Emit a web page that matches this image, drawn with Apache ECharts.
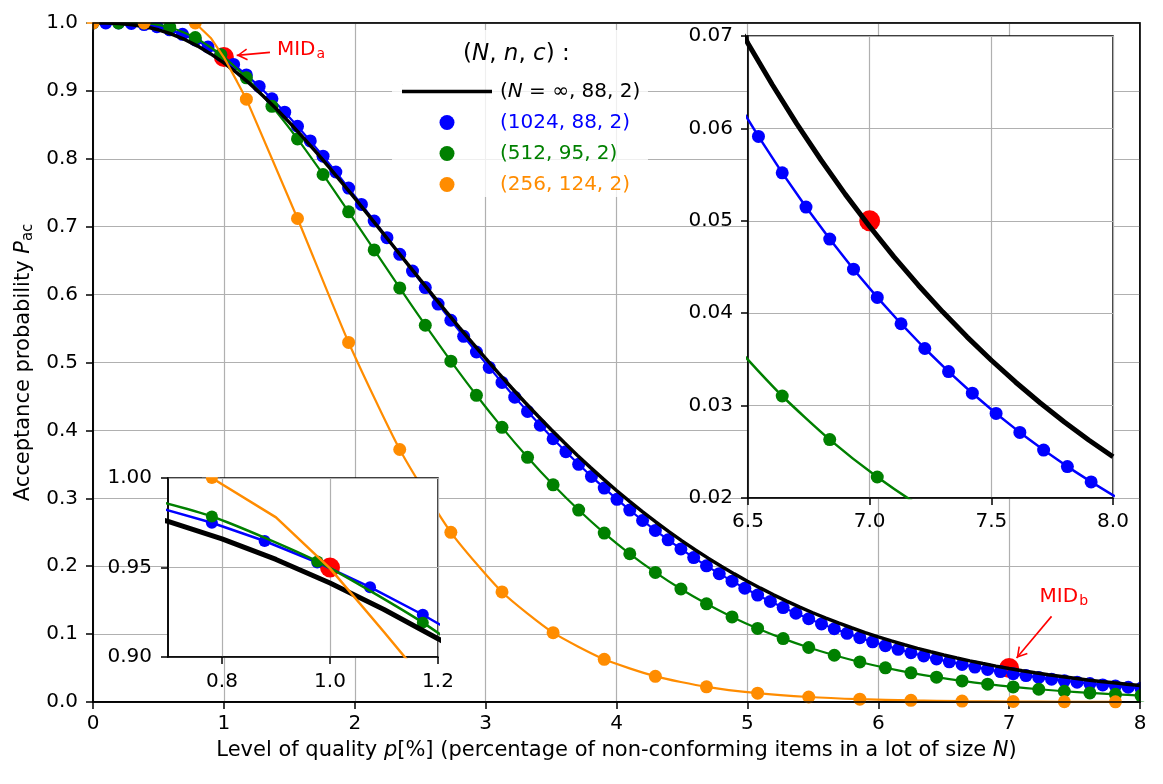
<!DOCTYPE html>
<html>
<head>
<meta charset="utf-8">
<title>OC curves</title>
<script src="https://cdn.jsdelivr.net/npm/echarts@6.0.0/dist/echarts.min.js"></script>
<style>
  html, body { margin: 0; padding: 0; background: #fff; }
  #chart { width: 1163px; height: 784px; }
</style>
</head>
<body>
<div id="chart"></div>
<script>
// ---- data -------------------------------------------------------------
// level of quality p [%] for the N = infinity curve
const pctBlack = [
  0, 0.1, 0.2, 0.3, 0.4, 0.5, 0.6, 0.7, 0.8, 0.9,
  1.0, 1.1, 1.2, 1.3, 1.4, 1.5, 1.6, 1.7, 1.8, 1.9,
  2.0, 2.1, 2.2, 2.3, 2.4, 2.5, 2.6, 2.7, 2.8, 2.9,
  3.0, 3.1, 3.2, 3.3, 3.4, 3.5, 3.6, 3.7, 3.8, 3.9,
  4.0, 4.1, 4.2, 4.3, 4.4, 4.5, 4.6, 4.7, 4.8, 4.9,
  5.0, 5.1, 5.2, 5.3, 5.4, 5.5, 5.6, 5.7, 5.8, 5.9,
  6.0, 6.1, 6.2, 6.3, 6.4, 6.5, 6.6, 6.7, 6.8, 6.9,
  7.0, 7.1, 7.2, 7.3, 7.4, 7.5, 7.6, 7.7, 7.8, 7.9, 8.0
];
const accBlack = [
  1, 0.9999, 0.99923, 0.99755, 0.99455, 0.99000, 0.98376, 0.97578, 0.96601, 0.95450,
  0.94130, 0.92651, 0.91023, 0.89257, 0.87368, 0.85369, 0.83273, 0.81095, 0.78847, 0.76544,
  0.74197, 0.71819, 0.69420, 0.67012, 0.64604, 0.62204, 0.59823, 0.57464, 0.55139, 0.52849,
  0.50601, 0.48400, 0.46250, 0.44153, 0.42113, 0.40132, 0.38210, 0.36350, 0.34553, 0.32818,
  0.31148, 0.29540, 0.27995, 0.26513, 0.25091, 0.23730, 0.22428, 0.21185, 0.19997, 0.18866,
  0.17788, 0.16763, 0.15787, 0.14860, 0.13979, 0.13144, 0.12354, 0.11608, 0.10896, 0.10225,
  0.09592, 0.08993, 0.08428, 0.07894, 0.07392, 0.06918, 0.06472, 0.06052, 0.05658, 0.05286,
  0.04938, 0.04610, 0.04303, 0.04015, 0.03744, 0.03491, 0.03253, 0.03031, 0.02823, 0.02628, 0.02446
];

// acceptance probability for D = 0, 1, 2, ... non-conforming items in the lot
const lotBlue = 1024;   // (1024, 88, 2)
const accBlue = [
  1, 1, 1, 0.9994, 0.9977, 0.9946, 0.9899, 0.9833, 0.9750, 0.9648,
  0.9528, 0.9390, 0.9236, 0.9066, 0.8883, 0.8687, 0.8479, 0.8263, 0.8038, 0.7806,
  0.7569, 0.7328, 0.7084, 0.6839, 0.6593, 0.6347, 0.6103, 0.5861, 0.5622, 0.5386,
  0.5155, 0.4928, 0.4706, 0.4489, 0.4280, 0.4076, 0.3877, 0.3686, 0.3501, 0.3322,
  0.3150, 0.2985, 0.2826, 0.2673, 0.2527, 0.2388, 0.2254, 0.2127, 0.2005, 0.1890,
  0.1780, 0.1675, 0.1575, 0.1481, 0.1391, 0.1307, 0.1226, 0.1150, 0.1079, 0.1011,
  0.0947, 0.0886, 0.0830, 0.0776, 0.07253, 0.06778, 0.06332, 0.05913, 0.05519, 0.05149,
  0.04802, 0.04476, 0.04171, 0.03886, 0.03618, 0.03368, 0.03134, 0.02915, 0.02710, 0.02519,
  0.02340, 0.02174, 0.02018
];
const lotGreen = 512;   // (512, 95, 2)
const accGreen = [
  1, 1, 1, 0.9938, 0.9785, 0.9534, 0.9192, 0.8773, 0.8293, 0.7769,
  0.7219, 0.6658, 0.6098, 0.5549, 0.5020, 0.4517, 0.4045, 0.3604, 0.3198, 0.2827,
  0.2488, 0.2183, 0.1909, 0.1664, 0.1446, 0.1253, 0.1083, 0.09336, 0.08028, 0.06888,
  0.05898, 0.05039, 0.04296, 0.03655, 0.03104, 0.02632, 0.02227, 0.01881, 0.01587, 0.01336,
  0.01123, 0.00943
];
const lotOrange = 256;  // (256, 124, 2)
const accOrange = [
  1, 1, 1, 0.8878, 0.7121, 0.5295, 0.3719, 0.2499, 0.1621, 0.1021,
  0.0628, 0.0378, 0.0223, 0.0130, 0.0074, 0.0042, 0.0024, 0.0013, 0.0007, 0.0004, 0.0002
];
// orange connecting line between the dots at 0.78 % and 1.17 %
const orangeCurvePct = [0.9, 1.0, 1.1];
const orangeCurveAcc = [0.978, 0.9495, 0.914];

// MID points
const midPct = [1.0, 7.0];
const midAcc = [0.95, 0.05];

const seriesNames = ['(N = ∞, 88, 2)', '(1024, 88, 2)', '(512, 95, 2)', '(256, 124, 2)'];

// ---- build ------------------------------------------------------------
const FONT = 'DejaVu Sans';
const BLUE = '#0000ff', GREEN = '#008000', ORANGE = '#ff8c00', RED = '#ff0000';
const GRIDC = '#b0b0b0';
// open arrow head, tip at the symbol centre
const ARROW = 'path://M0,-10.8L0.01,-10.8L0,-10.79Z M0,0L6,10L4.6,10.8L0,3L-4.6,10.8L-6,10Z';
const LINE_ICON = 'path://M0,0L0.3,0L0,0.3Z M0,5.7L90,5.7L90,9.3L0,9.3Z M90,15L89.7,15L90,14.7Z';

function dots(acc, lot) {
  return acc.map((v, d) => [100 * d / lot, v]);
}
const blackPts = pctBlack.map((p, i) => [p, accBlack[i]]);
const bluePts = dots(accBlue, lotBlue);
const greenPts = dots(accGreen, lotGreen);
const orangePts = dots(accOrange, lotOrange);
// first part of the orange line (D = 2 .. 3) is drawn straight, the rest smoothed
const orangeHead = [orangePts[2]]
  .concat(orangeCurvePct.map((p, i) => [p, orangeCurveAcc[i]]), [orangePts[3]]);
const orangeTail = orangePts.slice(3);
const midPts = midPct.map((p, i) => [p, midAcc[i]]);

function curves(g, st) {
  const z = st.z;
  const clip = g !== 0;
  const s = (o) => Object.assign({ xAxisIndex: g, yAxisIndex: g, silent: true, animation: false }, o);
  return [
    s({ type: 'scatter', name: 'MID', data: midPts, symbolSize: st.red,
        itemStyle: { color: RED, opacity: 1 }, z: z }),
    s({ type: 'line', name: 'blue-line', data: bluePts, showSymbol: false,
        lineStyle: { color: BLUE, width: st.thin }, itemStyle: { color: BLUE }, z: z + 1 }),
    s({ type: 'scatter', name: seriesNames[1], data: bluePts, symbolSize: st.dot, clip: clip,
        itemStyle: { color: BLUE, opacity: 1 }, z: z + 2 }),
    s({ type: 'line', name: 'green-line', data: greenPts, showSymbol: false, smooth: 0.2,
        lineStyle: { color: GREEN, width: st.thin }, itemStyle: { color: GREEN }, z: z + 3 }),
    s({ type: 'scatter', name: seriesNames[2], data: greenPts, symbolSize: st.dot, clip: clip,
        itemStyle: { color: GREEN, opacity: 1 }, z: z + 4 }),
    s({ type: 'line', name: seriesNames[0], data: blackPts, showSymbol: false,
        lineStyle: { color: '#000', width: st.black }, itemStyle: { color: '#000' }, z: z + 5 }),
    s({ type: 'line', name: 'orange-head', data: orangeHead, showSymbol: false,
        lineStyle: { color: ORANGE, width: st.thin }, itemStyle: { color: ORANGE }, z: z + 6 }),
    s({ type: 'line', name: 'orange-tail', data: orangeTail, showSymbol: false, smooth: 0.2,
        lineStyle: { color: ORANGE, width: st.thin }, itemStyle: { color: ORANGE }, z: z + 6 }),
    s({ type: 'scatter', name: seriesNames[3], data: orangePts, symbolSize: st.dot, clip: clip,
        itemStyle: { color: ORANGE, opacity: 1 }, z: z + 7 })
  ];
}

function notes(g, z, items) {
  return {
    type: 'scatter', xAxisIndex: g, yAxisIndex: g, data: [], silent: true, z: z, animation: false,
    markLine: {
      silent: true, animation: false, symbol: ['none', ARROW], symbolSize: [12, 21.6],
      lineStyle: { color: RED, width: 1.6, type: 'solid' },
      label: { show: false },
      data: items.map(it => [{ coord: it.from }, { coord: it.to }])
    },
    markPoint: {
      silent: true, animation: false, symbol: 'circle', symbolSize: 0,
      label: {
        show: true, position: 'inside', color: RED, fontFamily: FONT,
        rich: {
          m: { fontSize: 20, color: RED, fontFamily: FONT },
          s: { fontSize: 14, color: RED, fontFamily: FONT, padding: [9, 0, 0, 1] }
        }
      },
      itemStyle: { color: 'transparent' },
      data: items.map(it => ({ coord: it.at, label: { formatter: '{m|MID}{s|' + it.sub + '}' } }))
    }
  };
}

function axis(g, o) {
  return Object.assign({
    type: 'value', gridIndex: g,
    axisLine: { show: true, onZero: false, lineStyle: { color: '#000', width: 1.5 } },
    axisTick: { show: true, length: 7, lineStyle: { color: '#000', width: 1.5 } },
    splitLine: { show: true, lineStyle: { color: GRIDC, width: 1.2 } }
  }, o);
}
function label(fmt, margin, extra) {
  return Object.assign({ color: '#000', fontFamily: FONT, fontSize: 20, margin: margin, formatter: fmt }, extra || {});
}
function cover(x, y, w, h) {
  return { type: 'rect', shape: { x: x, y: y, width: w, height: h }, style: { fill: '#fff' }, z: 30, silent: true };
}

const insetTicks = [0.8, 1.0, 1.2];

const option = {
  animation: false,
  backgroundColor: '#fff',
  textStyle: { fontFamily: FONT },
  grid: [
    { left: 93, top: 23, width: 1047, height: 679, show: true, borderColor: '#000', borderWidth: 1.5,
      backgroundColor: 'transparent' },
    { left: 168, top: 478, width: 270, height: 179, show: true, borderColor: '#000', borderWidth: 1.5,
      backgroundColor: '#fff', z: 10 },
    { left: 748, top: 36, width: 365, height: 462, show: true, borderColor: '#000', borderWidth: 1.5,
      backgroundColor: '#fff', z: 10 }
  ],
  xAxis: [
    axis(0, {
      min: 0, max: 8, interval: 1,
      axisLabel: label(v => String(v), 12),
      name: '{t|Level of quality }{i|p}{t|[%] (percentage of non-conforming items in a lot of size }{i|N}{t|)}',
      nameLocation: 'middle', nameGap: 38,
      nameTextStyle: {
        color: '#000', fontFamily: FONT, fontSize: 21,
        rich: {
          t: { fontSize: 21, fontFamily: FONT, color: '#000' },
          i: { fontSize: 21, fontFamily: FONT, fontStyle: 'italic', color: '#000' }
        }
      }
    }),
    axis(1, {
      min: 0.7, max: 1.2, interval: 0.1, z: 11,
      axisTick: { show: true, length: 7, customValues: insetTicks, lineStyle: { color: '#000', width: 1.5 } },
      axisLabel: label(v => v.toFixed(1), 15, { customValues: insetTicks })
    }),
    axis(2, {
      min: 6.5, max: 8, interval: 0.5, z: 11,
      axisLabel: label(v => v.toFixed(1), 14)
    })
  ],
  yAxis: [
    axis(0, {
      min: 0, max: 1, interval: 0.1,
      axisLabel: label(v => v.toFixed(1), 15),
      name: '{t|Acceptance probability }{i|P}{s|ac}',
      nameLocation: 'middle', nameRotate: 90, nameGap: 52,
      nameTextStyle: {
        color: '#000', fontFamily: FONT, fontSize: 21,
        rich: {
          t: { fontSize: 21, fontFamily: FONT, color: '#000' },
          i: { fontSize: 21, fontFamily: FONT, fontStyle: 'italic', color: '#000' },
          s: { fontSize: 15, fontFamily: FONT, color: '#000', padding: [9, 0, 0, 0] }
        }
      }
    }),
    axis(1, {
      min: 0.9, max: 1.0, interval: 0.05, z: 11,
      axisLabel: label(v => v.toFixed(2), 16)
    }),
    axis(2, {
      min: 0.02, max: 0.07, interval: 0.01, z: 11,
      axisLabel: label(v => v.toFixed(2), 15)
    })
  ],
  title: {
    text: '({i|N}, {i|n}, {i|c}) :',
    left: 458, top: 38,
    textStyle: {
      fontFamily: FONT, fontSize: 23, fontWeight: 'normal', color: '#000',
      rich: { i: { fontFamily: FONT, fontSize: 23, fontWeight: 'normal', fontStyle: 'italic', color: '#000' } }
    }
  },
  legend: {
    orient: 'vertical', left: 397, top: 76, itemWidth: 90, itemHeight: 15, itemGap: 10,
    selectedMode: false,
    textStyle: {
      fontFamily: FONT, fontSize: 20, lineHeight: 21, padding: [0, 0, 0, 3],
      rich: { i: { fontFamily: FONT, fontSize: 20, fontStyle: 'italic' } }
    },
    formatter: name => (name === seriesNames[0] ? '({i|N} = ∞, 88, 2)' : name),
    data: [
      { name: seriesNames[0], icon: LINE_ICON, textStyle: { color: '#000' } },
      { name: seriesNames[1], icon: 'circle', textStyle: { color: BLUE } },
      { name: seriesNames[2], icon: 'circle', textStyle: { color: GREEN } },
      { name: seriesNames[3], icon: 'circle', textStyle: { color: ORANGE } }
    ]
  },
  graphic: [
    { type: 'rect', shape: { x: 392, y: 30, width: 256, height: 167 },
      style: { fill: 'rgba(255,255,255,0.8)' }, z: 1, silent: true },
    // markers of the main axes are clipped at its edges
    cover(80, 0, 1083, 22.2),
    cover(80, 23.8, 12.2, 8),
    cover(1140.8, 22, 22.2, 679.5),
    // the orange marker on the top edge of the lower inset is clipped too
    cover(202, 469, 18, 8.2),
    // main frame drawn above the markers
    { type: 'rect', shape: { x: 93, y: 23, width: 1047, height: 679 },
      style: { fill: 'none', stroke: '#000', lineWidth: 1.5 }, z: 31, silent: true }
  ],
  series: [].concat(
    curves(0, { z: 2, dot: 13, red: 20, thin: 2.2, black: 3.5 }),
    notes(0, 9, [
      { from: [1.352, 0.9567], to: [1.098, 0.9523], at: [1.589, 0.9607], sub: 'a' },
      { from: [7.324, 0.1261], to: [7.057, 0.0648], at: [7.418, 0.1551], sub: 'b' }
    ]),
    curves(1, { z: 12, dot: 12, red: 20, thin: 2.5, black: 5 }),
    notes(1, 20, [
      { from: [1.0859, 0.9690], to: [1.0148, 0.9532], at: [1.1226, 0.9776], sub: 'a' }
    ]),
    curves(2, { z: 12, dot: 13, red: 21, thin: 2.5, black: 5 }),
    notes(2, 20, [
      { from: [7.2397, 0.06027], to: [7.0178, 0.05089], at: [7.2714, 0.0621], sub: 'b' }
    ])
  )
};

const chart = echarts.init(document.getElementById('chart'), null, { renderer: 'canvas' });
chart.setOption(option);
</script>
</body>
</html>
